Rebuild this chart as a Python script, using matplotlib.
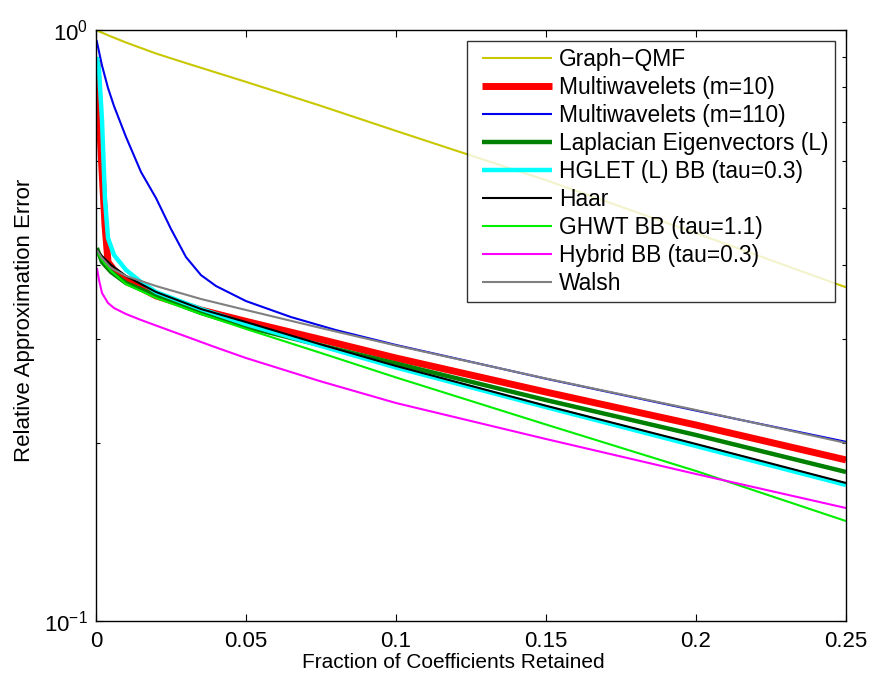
import matplotlib
matplotlib.use("Agg")
import matplotlib.pyplot as plt
from matplotlib.lines import Line2D
from matplotlib.legend_handler import HandlerLine2D
from matplotlib.ticker import LogLocator, FixedLocator, NullFormatter

plt.rcParams['font.family'] = ['Liberation Sans', 'DejaVu Sans']
plt.rcParams['mathtext.default'] = 'regular'

# fraction grid shared by several curves
x = [0.0003, 0.002, 0.005, 0.01, 0.02, 0.035, 0.05, 0.075, 0.1, 0.15, 0.2, 0.25]

x_qmf = [0.0003, 0.005, 0.01, 0.02, 0.03, 0.05, 0.075, 0.1, 0.15, 0.2, 0.25]
graph_qmf = [0.998, 0.975, 0.9525, 0.9125, 0.879, 0.817, 0.744, 0.675,
             0.557, 0.453, 0.367]

x_mw10 = [0.0003, 0.001, 0.002, 0.003, 0.004, 0.006, 0.01, 0.02, 0.035,
          0.05, 0.075, 0.1, 0.15, 0.2, 0.25]
mw10 = [0.8897, 0.7322, 0.5796, 0.4677, 0.4049, 0.3925, 0.3775, 0.3549,
        0.3359, 0.3214, 0.2995, 0.2786, 0.2440, 0.2146, 0.1873]

x_mw110 = [0.00017, 0.002, 0.004, 0.006, 0.01, 0.015, 0.02, 0.025, 0.03,
           0.035, 0.04, 0.05, 0.065, 0.08, 0.1, 0.15, 0.2, 0.25]
mw110 = [0.9618, 0.8708, 0.7979, 0.7436, 0.6592, 0.5751, 0.5196, 0.4605,
         0.4128, 0.3848, 0.3688, 0.3478, 0.3268, 0.3106, 0.2931, 0.257,
         0.227, 0.201]

lap = [0.4277, 0.4050, 0.3896, 0.3731, 0.3549, 0.3320, 0.3147, 0.2926,
       0.2727, 0.2365, 0.2064, 0.1787]

x_hglet = [0.0003, 0.001, 0.002, 0.003, 0.004, 0.006, 0.01, 0.015, 0.02,
           0.035, 0.05, 0.075, 0.1, 0.15, 0.2, 0.25]
hglet = [0.9000, 0.8557, 0.7042, 0.5158, 0.4446, 0.4162, 0.3926, 0.3746,
         0.3603, 0.3372, 0.3180, 0.2920, 0.2685, 0.2301, 0.1977, 0.1699]

haar = [0.4244, 0.4146, 0.4003, 0.3835, 0.3603, 0.3372, 0.3205, 0.2937,
        0.2701, 0.2313, 0.1993, 0.1712]

ghwt = [0.4211, 0.4082, 0.3911, 0.3717, 0.3520, 0.3307, 0.3120, 0.2841,
        0.2583, 0.2150, 0.1794, 0.1476]

x_hyb = [0.0003, 0.001, 0.002, 0.004, 0.006, 0.01, 0.015, 0.02, 0.03, 0.04,
         0.05, 0.075, 0.1, 0.15, 0.2, 0.25]
hybrid = [0.3957, 0.3776, 0.3589, 0.3452, 0.3385, 0.3307, 0.3231, 0.3162,
          0.3030, 0.2903, 0.2786, 0.2543, 0.2338, 0.2032, 0.1773, 0.1553]

walsh = [0.4244, 0.4114, 0.3957, 0.3835, 0.3688, 0.3506, 0.3359, 0.3131,
         0.2925, 0.2572, 0.2275, 0.2001]

labels = ['Graph\u2212QMF', 'Multiwavelets (m=10)', 'Multiwavelets (m=110)',
          'Laplacian Eigenvectors (L)', 'HGLET (L) BB (tau=0.3)', 'Haar',
          'GHWT BB (tau=1.1)', 'Hybrid BB (tau=0.3)', 'Walsh']

fig = plt.figure(figsize=(8.7, 6.83), dpi=100)
ax = fig.add_axes([96/870, 62/683, 750/870, 591/683])

kw = dict(solid_joinstyle='round', solid_capstyle='butt')
ax.plot(x_qmf, graph_qmf, color='#c8c800', lw=1.5, label=labels[0], **kw)
ax.plot(x_mw10, mw10, color='#ff0000', lw=5, label=labels[1], **kw)
ax.plot(x_mw110, mw110, color='#0000ee', lw=1.5, label=labels[2], **kw)
ax.plot(x, lap, color='#008000', lw=3.2, label=labels[3], **kw)
ax.plot(x_hglet, hglet, color='#00ffff', lw=3.2, label=labels[4], **kw)
ax.plot(x, haar, color='#000000', lw=1.5, label=labels[5], **kw)
ax.plot(x, ghwt, color='#00ee00', lw=1.5, label=labels[6], **kw)
ax.plot(x_hyb, hybrid, color='#ff00ff', lw=1.5, label=labels[7], **kw)
ax.plot(x, walsh, color='#808080', lw=1.5, label=labels[8], **kw)

ax.set_yscale('log')
ax.set_xlim(0, 0.25)
ax.set_ylim(0.1, 1.0)
ax.xaxis.set_major_locator(FixedLocator([0, 0.05, 0.1, 0.15, 0.2, 0.25]))
ax.set_xticklabels(['0', '0.05', '0.1', '0.15', '0.2', '0.25'])
ax.yaxis.set_major_locator(FixedLocator([0.1, 1.0]))
ax.set_yticklabels(['$10^{-1}$', '$10^{0}$'])
ax.yaxis.set_minor_locator(LogLocator(base=10, subs=range(2, 10)))
ax.yaxis.set_minor_formatter(NullFormatter())

ax.tick_params(which='both', direction='in', top=True, right=True, labelsize=16)
ax.tick_params(which='major', length=5, width=0.8)
ax.tick_params(which='minor', length=3, width=0.8)
ax.tick_params(axis='x', pad=7)
ax.tick_params(axis='y', pad=6)
for s in ax.spines.values():
    s.set_linewidth(1.0)

ax.set_xlabel('Fraction of Coefficients Retained', fontsize=15, labelpad=1,
              x=0.477)
ax.set_ylabel('Relative Approximation Error', fontsize=16, labelpad=6.5,
              y=0.508)

leg = ax.legend(loc='upper right', fontsize=16.4, frameon=True, fancybox=False,
                edgecolor='black', handlelength=3.43, borderaxespad=0.48,
                labelspacing=0.22, handletextpad=0.31, borderpad=0.30,
                handler_map={Line2D: HandlerLine2D(xpad=0.36)})
leg.get_frame().set_linewidth(1.0)

fig.savefig('out.png', dpi=100)
